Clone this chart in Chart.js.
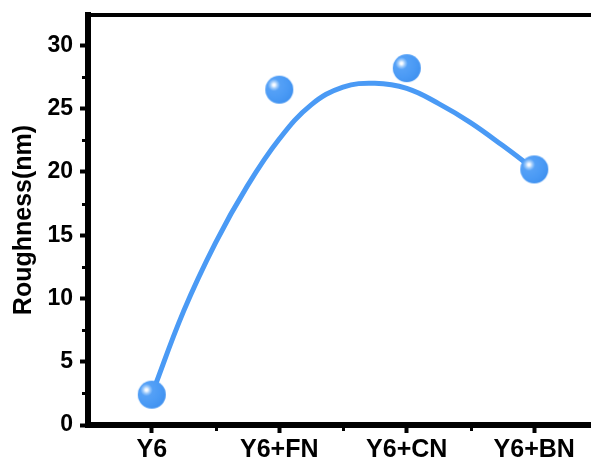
<!DOCTYPE html>
<html>
<head>
<meta charset="utf-8">
<script src="https://cdn.jsdelivr.net/npm/chart.js@4/dist/chart.umd.min.js"></script>
<style>
  html, body { margin: 0; padding: 0; background: #ffffff; }
  #wrap { width: 591px; height: 463px; overflow: hidden; }
</style>
</head>
<body>
<div id="wrap"><canvas id="c" width="591" height="463"></canvas></div>
<script>
// Samples and measured roughness
const categories = ['Y6', 'Y6+FN', 'Y6+CN', 'Y6+BN'];
const roughness = [2.4, 26.5, 28.2, 20.2];

// Smooth trend curve through the series
const trendX = [0, 0.25, 0.5, 0.75, 1, 1.25, 1.5, 1.75, 2, 2.25, 2.5, 2.75, 3];
const trendY = [2.4, 9.0, 14.4, 18.9, 22.6, 25.3, 26.7, 27.0, 26.6, 25.4, 23.9, 22.1, 20.2];

// Axis ticks
const yTicks = [0, 5, 10, 15, 20, 25, 30];
const yMinorTicks = [2.5, 7.5, 12.5, 17.5, 22.5, 27.5];
const xMinorTicks = [0.5, 1.5, 2.5];

const BLUE = '#4a9af5';
const FONT = "'Liberation Sans', Arial, sans-serif";

// Glossy sphere marker
function makeSphere(r) {
  const size = r * 2 + 2;
  const cv = document.createElement('canvas');
  cv.width = size; cv.height = size;
  const g = cv.getContext('2d');
  const cx = size / 2, cy = size / 2;
  const hx = cx - r * 0.38, hy = cy - r * 0.34;
  const grad = g.createRadialGradient(hx, hy, 0, hx, hy, r * 1.45);
  grad.addColorStop(0, '#ffffff');
  grad.addColorStop(0.06, '#f4f9ff');
  grad.addColorStop(0.17, '#9fcbfb');
  grad.addColorStop(0.3, '#55a1f7');
  grad.addColorStop(0.7, '#4a9af5');
  grad.addColorStop(1, '#4192f0');
  g.fillStyle = grad;
  g.beginPath();
  g.arc(cx, cy, r, 0, Math.PI * 2);
  g.fill();
  return cv;
}
const sphere = makeSphere(14);

// Frame top line and short minor ticks
const framePlugin = {
  id: 'frame',
  afterDraw(chart) {
    const { ctx, chartArea } = chart;
    const xs = chart.scales.x, ys = chart.scales.y;
    ctx.save();
    ctx.fillStyle = '#000000';
    ctx.fillRect(chartArea.left - 3, chartArea.top - 2, chart.width - chartArea.left + 3, 4);
    ctx.strokeStyle = '#000000';
    ctx.lineWidth = 3;
    ctx.beginPath();
    yMinorTicks.forEach(v => {
      const py = Math.round(ys.getPixelForValue(v)) + 0.5;
      ctx.moveTo(chartArea.left - 6, py);
      ctx.lineTo(chartArea.left - 3, py);
    });
    xMinorTicks.forEach(v => {
      const px = Math.round(xs.getPixelForValue(v)) + 0.5;
      ctx.moveTo(px, chartArea.bottom + 3);
      ctx.lineTo(px, chartArea.bottom + 6);
    });
    ctx.stroke();
    ctx.restore();
  }
};

new Chart(document.getElementById('c'), {
  type: 'scatter',
  data: {
    datasets: [
      {
        label: 'trend',
        data: trendX.map((x, i) => ({ x: x, y: trendY[i] })),
        showLine: true,
        borderColor: BLUE,
        borderWidth: 5,
        pointRadius: 0,
        tension: 0.4,
        order: 2
      },
      {
        label: 'Roughness',
        data: roughness.map((v, i) => ({ x: i, y: v })),
        pointStyle: sphere,
        pointRadius: 14,
        pointHoverRadius: 14,
        showLine: false,
        order: 1
      }
    ]
  },
  options: {
    responsive: false,
    animation: false,
    devicePixelRatio: 1,
    layout: { autoPadding: false, padding: { top: 15, right: 0, bottom: 0, left: 0 } },
    plugins: { legend: { display: false }, tooltip: { enabled: false } },
    scales: {
      x: {
        type: 'linear',
        min: -0.5,
        max: 3.445,
        afterFit(scale) { scale.height = 38; scale.paddingLeft = 0; scale.paddingRight = 0; },
        afterBuildTicks(scale) { scale.ticks = categories.map((c, i) => ({ value: i })); },
        border: { display: true, color: '#000000', width: 6 },
        grid: { drawOnChartArea: false, drawTicks: true, tickLength: 8, tickWidth: 4, tickColor: '#000000', color: '#000000' },
        ticks: {
          autoSkip: false,
          maxRotation: 0,
          padding: 2,
          color: '#000000',
          font: { family: FONT, size: 25, weight: 'bold' },
          callback: (v) => categories[v]
        }
      },
      y: {
        type: 'linear',
        min: 0,
        max: 32.4,
        afterFit(scale) { scale.width = 88; scale.paddingTop = 0; scale.paddingBottom = 0; },
        afterBuildTicks(scale) { scale.ticks = yTicks.map(v => ({ value: v })); },
        border: { display: true, color: '#000000', width: 6 },
        grid: { drawOnChartArea: false, drawTicks: true, tickLength: 8, tickWidth: 4, tickColor: '#000000', color: '#000000' },
        ticks: {
          padding: 7,
          color: '#000000',
          font: { family: FONT, size: 23, weight: 'bold' }
        },
        title: {
          display: true,
          text: 'Roughness(nm)',
          color: '#000000',
          padding: { top: 9, bottom: 0 },
          font: { family: FONT, size: 25, weight: 'bold' }
        }
      }
    }
  },
  plugins: [framePlugin]
});
</script>
</body>
</html>
